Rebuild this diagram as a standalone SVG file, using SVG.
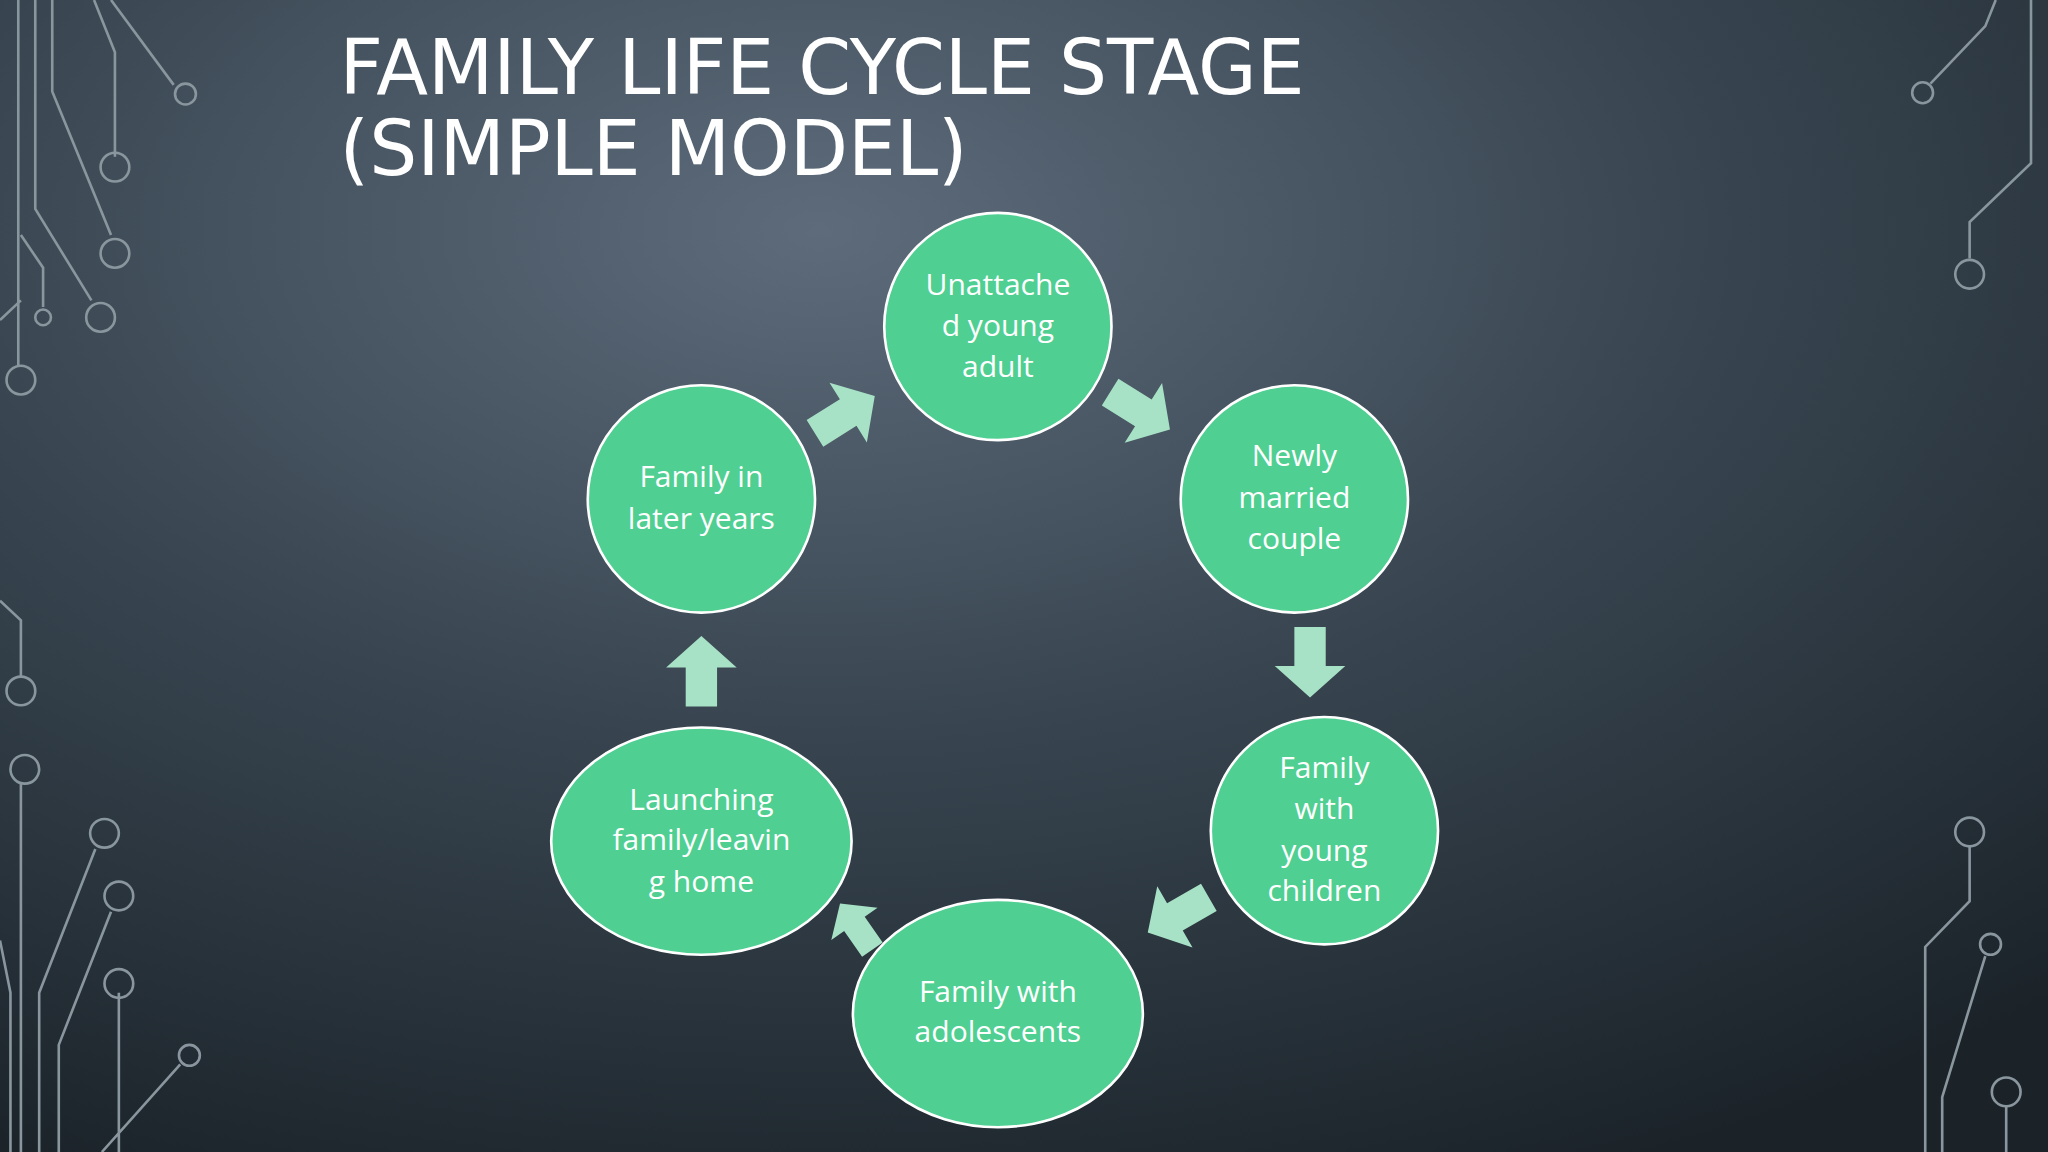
<svg xmlns="http://www.w3.org/2000/svg" width="2048" height="1152" viewBox="0 0 2048 1152">
<defs>
<radialGradient id="bg" cx="0.4" cy="0.2" r="0.9">
<stop offset="0" stop-color="#5d6b7b"/>
<stop offset="0.5" stop-color="#37444f"/>
<stop offset="1" stop-color="#1b2329"/>
</radialGradient>
<polygon id="arr" points="-26,-12 4,-12 4,-27 28,0 4,27 4,12 -26,12"/>
</defs>
<style>
.node{fill:#4fcf92;stroke:#ffffff;stroke-width:2}
.lbl{fill:#ffffff;font-family:"Open Sans","DejaVu Sans",sans-serif;font-size:23px;text-anchor:middle}
.ttl{fill:#ffffff;font-family:"DejaVu Sans","Open Sans",sans-serif;font-size:58px}
.a{fill:#a8e2c6}
.c{fill:none;stroke:#8a969e;stroke-width:2}
</style>
<rect width="2048" height="1152" fill="url(#bg)"/>
<g transform="scale(1.30612)">
<g id="decor" class="c">
<path d="M14,0V280M27,0V160L70,230M40,0V70L85,180M72,0L88,40V120M85,0L133,65M16,180L33,205V235M0,245L16,230"/>
<circle cx="142" cy="72" r="8"/><circle cx="88" cy="128" r="11"/><circle cx="88" cy="194" r="11"/><circle cx="77" cy="243" r="11"/><circle cx="33" cy="243" r="6"/><circle cx="16" cy="291" r="11"/>
<path d="M0,460L16,475V518M16,600V882M0,720L8,760V882M30,882V760L73,650M45,882V800L85,698M91,760V882M78,882L138,815"/>
<circle cx="16" cy="529" r="11"/><circle cx="19" cy="589" r="11"/><circle cx="80" cy="638" r="11"/><circle cx="91" cy="686" r="11"/><circle cx="91" cy="753" r="11"/><circle cx="145" cy="808" r="8"/>
<path d="M1478,64L1520,20L1528,0M1555,0V125L1508,170V198M1508,648V690L1474,725V882M1487,882V840L1520,732M1536,847V882"/>
<circle cx="1472" cy="71" r="8"/><circle cx="1508" cy="210" r="11"/><circle cx="1508" cy="637" r="11"/><circle cx="1524" cy="723" r="8"/><circle cx="1536" cy="836" r="11"/>
</g>
<text class="ttl" x="260" y="72">FAMILY LIFE CYCLE STAGE</text>
<text class="ttl" x="260" y="134">(SIMPLE MODEL)</text>
<g id="connectors">
<use href="#arr" class="a" transform="translate(646,318) rotate(-32)"/>
<use href="#arr" class="a" transform="translate(872,314) rotate(32)"/>
<use href="#arr" class="a" transform="translate(1003,506) rotate(90)"/>
<use href="#arr" class="a" transform="translate(903,700) rotate(150)"/>
<use href="#arr" class="a" transform="translate(656,710) rotate(-125) scale(0.8)"/>
<use href="#arr" class="a" transform="translate(537,515) rotate(-90)"/>
</g>
<g id="n1"><circle class="node" cx="764" cy="250" r="87"/><text class="lbl" x="764" y="226">Unattache</text><text class="lbl" x="764" y="257">d young</text><text class="lbl" x="764" y="289">adult</text></g>
<g id="n2"><circle class="node" cx="991" cy="382" r="87"/><text class="lbl" x="991" y="357">Newly</text><text class="lbl" x="991" y="389">married</text><text class="lbl" x="991" y="420">couple</text></g>
<g id="n3"><circle class="node" cx="1014" cy="636" r="87"/><text class="lbl" x="1014" y="596">Family</text><text class="lbl" x="1014" y="627">with</text><text class="lbl" x="1014" y="659">young</text><text class="lbl" x="1014" y="690">children</text></g>
<g id="n4"><ellipse class="node" cx="764" cy="776" rx="111" ry="87"/><text class="lbl" x="764" y="767">Family with</text><text class="lbl" x="764" y="798">adolescents</text></g>
<g id="n5"><ellipse class="node" cx="537" cy="644" rx="115" ry="87"/><text class="lbl" x="537" y="620">Launching</text><text class="lbl" x="537" y="651">family/leavin</text><text class="lbl" x="537" y="683">g home</text></g>
<g id="n6"><circle class="node" cx="537" cy="382" r="87"/><text class="lbl" x="537" y="373">Family in</text><text class="lbl" x="537" y="405">later years</text></g>
</g>
</svg>
